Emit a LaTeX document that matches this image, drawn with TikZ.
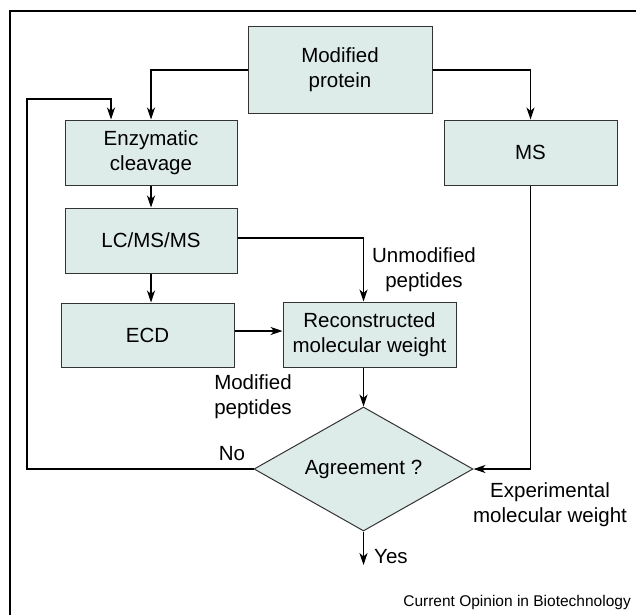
\documentclass[tikz,border=0pt]{standalone}
\usepackage{fontspec}
\setmainfont{Liberation Sans}
\usetikzlibrary{arrows.meta,shapes.geometric}
\definecolor{boxfill}{RGB}{221,235,233}
\tikzset{
  stagebox/.style={draw=black!80,fill=boxfill,line width=1pt,align=center,inner sep=0pt,
    font=\fontsize{20.5}{25}\selectfont},
  lbl/.style={align=center,inner sep=0pt,font=\fontsize{20.5}{25}\selectfont},
  conn/.style={line width=1.1pt,->}
}
\begin{document}
\begin{tikzpicture}[x=1pt,y=-1pt,>={Stealth[length=12pt,width=8pt,inset=3.5pt]}]
    \useasboundingbox (0,0) rectangle (636,615);
    \draw[line width=1.5pt](10,615)--(10,11)--(636,11);
    % boxes
    \node[stagebox,minimum width=184pt,minimum height=86pt](mp)at(340,70){Modified\\protein};
    \node[stagebox,minimum width=172pt,minimum height=65pt](enz)at(151,152.5){Enzymatic\\cleavage};
    \node[stagebox,minimum width=173pt,minimum height=65pt](ms)at(530.5,152.5){MS};
    \node[stagebox,minimum width=172pt,minimum height=65pt](lc)at(151,240.5){LC/MS/MS};
    \node[stagebox,minimum width=173pt,minimum height=64pt](ecd)at(147.5,335){ECD};
    \node[stagebox,minimum width=173pt,minimum height=65pt](rec)at(369.5,334.5){Reconstructed\\molecular weight};
    \node[stagebox,shape=diamond,aspect=1.77,minimum width=219pt,minimum height=124pt](agr)at(363.5,469){Agreement ?};
    % labels
    \node[lbl](unm)at(424,270){Unmodified\\peptides};
    \node[lbl](mod)at(253,397){Modified\\peptides};
    \node[lbl](no)at(232,454){No};
    \node[lbl](exp)at(550,505){Experimental\\molecular weight};
    \node[lbl,anchor=west](yes)at(374,557){Yes};
    \node[anchor=east,inner sep=0pt,font=\fontsize{15.5}{18}\selectfont](src)at(631,602){Current Opinion in Biotechnology};
    \coordinate(lp)at(27,99);
    \coordinate(ye)at(363.5,565);
    % connectors
    \draw[conn](mp.west)-|(enz.north);
    \draw[conn](mp.east)-|(ms.north);
    \draw[conn](agr.west)-|(lp)-|([xshift=-40pt]enz.north);
    \draw[conn](enz.south)--(lc.north);
    \draw[conn](lc.south)--(lc.south|-ecd.north);
    \draw[conn]([yshift=2.5pt]lc.east)-|(agr.north|-rec.north);
    \draw[conn]([yshift=4pt]ecd.east)--([yshift=4pt]ecd.east-|rec.west);
    \draw[conn](agr.north|-rec.south)--(agr.north);
    \draw[conn](ms.south)|-(agr.east);
    \draw[conn](agr.south)--(ye);
\end{tikzpicture}
\end{document}
